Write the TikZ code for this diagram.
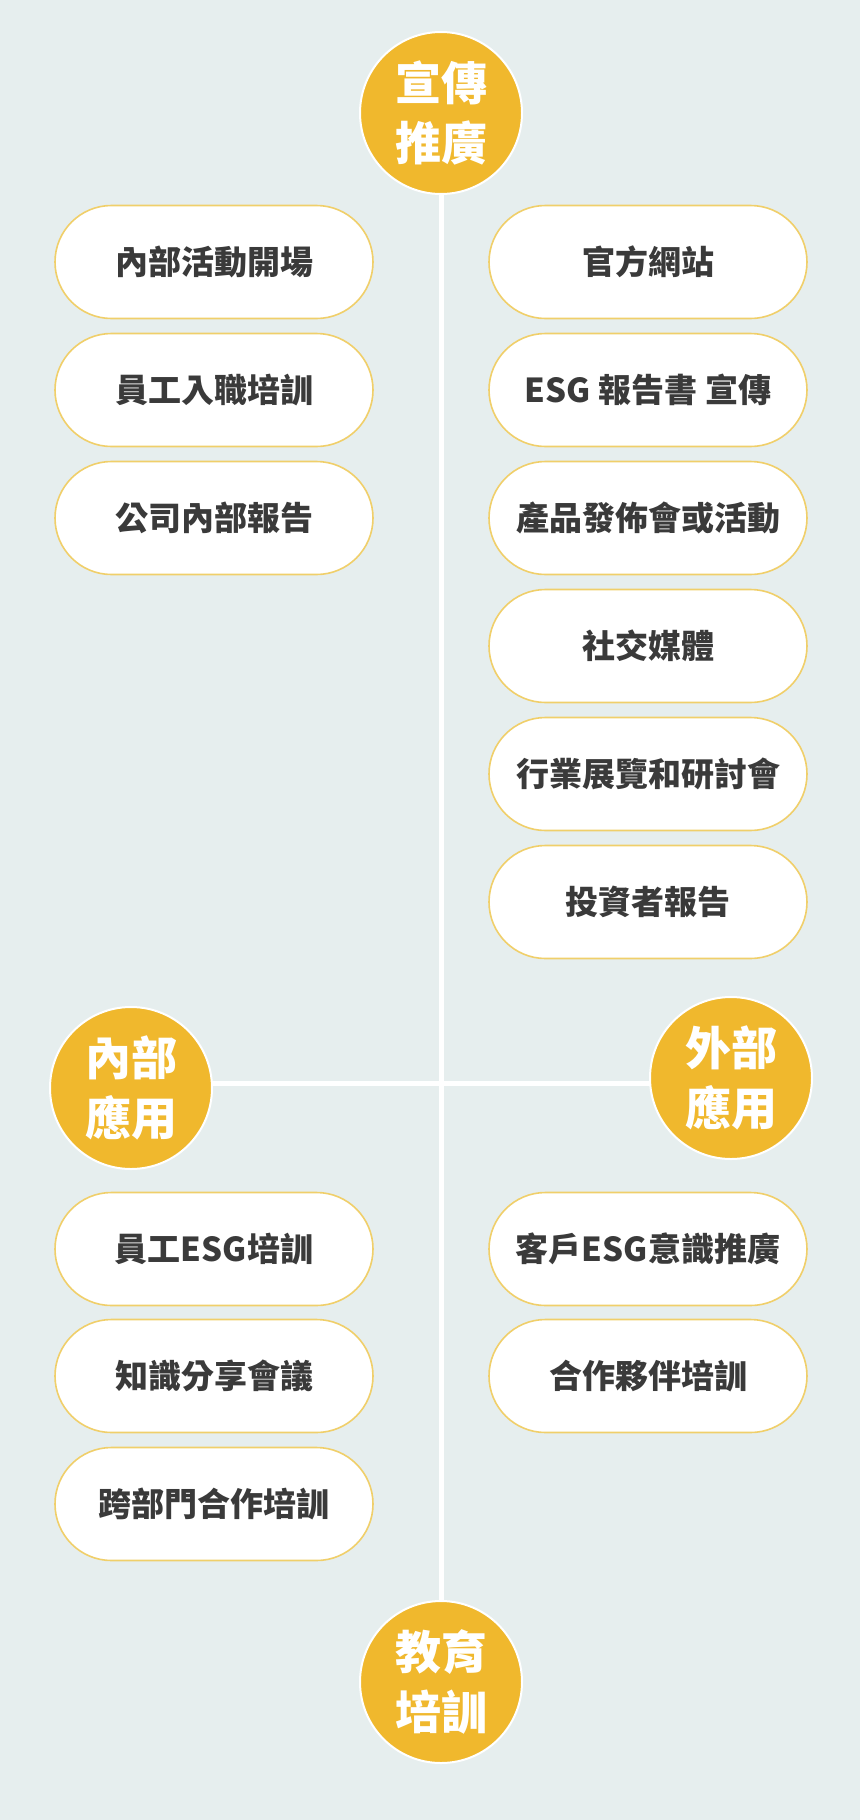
\documentclass[tikz,border=0pt]{standalone}
\usepackage{fontspec}
\setmainfont{Noto Sans CJK TC}
\usetikzlibrary{shapes.misc}
\definecolor{bgc}{HTML}{E6EEEE}
\definecolor{gold}{HTML}{F0B82D}
\definecolor{pillb}{HTML}{F0CF6A}
\definecolor{txt}{HTML}{3A3A3A}
\tikzset{
  hub/.style={circle, fill=gold, draw=white, line width=2pt, minimum size=162pt, inner sep=0pt,
    text=white, font=\fontsize{46}{60}\selectfont\bfseries, align=center},
  pill/.style={rounded rectangle, fill=white, draw=pillb, line width=1.6pt, minimum width=318pt,
    minimum height=113pt, inner sep=0pt, text=txt, font=\fontsize{33}{40}\selectfont\bfseries},
  link/.style={draw=white, line width=5pt}
}
\begin{document}
\begin{tikzpicture}[x=1pt,y=-1pt]
\fill[bgc] (0,0) rectangle (860,1820);
\useasboundingbox (0,0) rectangle (860,1820);
\coordinate (ctop) at (441,113);
\coordinate (cbot) at (441,1682);
\coordinate (cl) at (131,1083);
\coordinate (cr) at (731,1083);
\draw[link] (ctop) -- (cbot);
\draw[link] (cl) -- (cr);
\node[hub] (top) at (441,113) {宣傳\\推廣};
\node[hub] (bot) at (441,1682) {教育\\培訓};
\node[hub] (left) at (131,1088) {內部\\應用};
\node[hub] (right) at (731,1078) {外部\\應用};
% upper left
\node[pill] (l1) at (214,262) {內部活動開場};
\node[pill] (l2) at (214,390) {員工入職培訓};
\node[pill] (l3) at (214,518) {公司內部報告};
% upper right
\node[pill] (r1) at (648,262) {官方網站};
\node[pill] (r2) at (648,390) {ESG 報告書 宣傳};
\node[pill] (r3) at (648,518) {產品發佈會或活動};
\node[pill] (r4) at (648,646) {社交媒體};
\node[pill] (r5) at (648,774) {行業展覽和研討會};
\node[pill] (r6) at (648,902) {投資者報告};
% lower left
\node[pill] (l4) at (214,1249) {員工ESG培訓};
\node[pill] (l5) at (214,1376) {知識分享會議};
\node[pill] (l6) at (214,1504) {跨部門合作培訓};
% lower right
\node[pill] (r7) at (648,1249) {客戶ESG意識推廣};
\node[pill] (r8) at (648,1376) {合作夥伴培訓};
\end{tikzpicture}
\end{document}
